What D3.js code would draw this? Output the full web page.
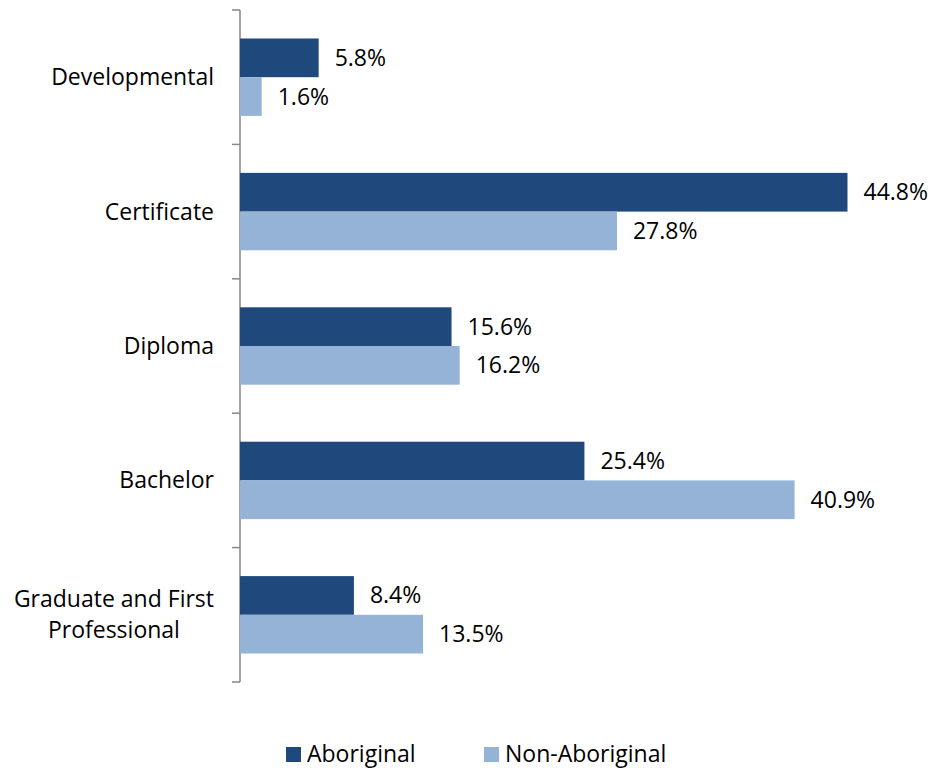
<!DOCTYPE html><html><head><meta charset="UTF-8"><script src="https://d3js.org/d3.v7.min.js"></script><style>
  body { margin: 0; background: #fff; }
  #chart { width: 932px; height: 770px; font-family: "Open Sans", sans-serif; }
</style></head><body><div id="chart"></div><script>
const categories = ["Developmental", "Certificate", "Diploma", "Bachelor", "Graduate and First Professional"];
const seriesNames = ["Aboriginal", "Non-Aboriginal"];
const aboriginal = [5.8, 44.8, 15.6, 25.4, 8.4];
const nonAboriginal = [1.6, 27.8, 16.2, 40.9, 13.5];
const colors = ["#1F497D", "#95B3D7"];

const fullWidth = 932, fullHeight = 770;
const fs = 23;
const svg = d3.select('#chart').append('svg')
  .attr('width', fullWidth).attr('height', fullHeight);

const x = d3.scaleLinear().domain([0, 50]).range([240, 918]);
const y0 = d3.scaleBand().domain(categories).range([10, 682]);
const groupH = 77.4;
const y1 = d3.scaleBand().domain(seriesNames).range([0, groupH]);

const rows = categories.map((c, i) => ({cat: c, vals: [aboriginal[i], nonAboriginal[i]]}));

// axis line with ticks on the left, at category boundaries
const axisG = svg.append('g').attr('transform', 'translate(240,0)');
axisG.append('line').attr('y1', 10).attr('y2', 682).attr('stroke', '#868686').attr('stroke-width', 1.5);
const boundaries = categories.map(c => y0(c)).concat([y0.range()[1]]);
axisG.selectAll('.tk').data(boundaries).enter().append('line')
  .attr('x1', -8).attr('x2', 0).attr('y1', d => d).attr('y2', d => d)
  .attr('stroke', '#868686').attr('stroke-width', 1.5);

const groups = svg.selectAll('.grp').data(rows).enter().append('g')
  .attr('transform', d => `translate(0,${y0(d.cat) + (y0.bandwidth() - groupH) / 2})`);

groups.selectAll('rect').data(d => d.vals.map((v, i) => ({v, s: seriesNames[i], i}))).enter()
  .append('rect')
  .attr('x', x(0)).attr('y', d => y1(d.s))
  .attr('width', d => x(d.v) - x(0)).attr('height', y1.bandwidth())
  .attr('fill', d => colors[d.i]);

groups.selectAll('text').data(d => d.vals.map((v, i) => ({v, s: seriesNames[i]}))).enter()
  .append('text')
  .attr('x', d => x(d.v) + 16).attr('y', d => y1(d.s) + y1.bandwidth() / 2)
  .attr('dy', '0.35em').attr('font-size', fs).attr('fill', '#000')
  .text(d => d.v.toFixed(1) + '%');

// category labels
const wrap = {"Graduate and First Professional": ["Graduate and First", "Professional"]};
categories.forEach(c => {
  const lines = wrap[c] || [c];
  const cy = y0(c) + y0.bandwidth() / 2;
  const t = svg.append('text').attr('font-size', fs).attr('fill', '#000');
  const lh = 31;
  lines.forEach((l, i) => {
    t.append('tspan').text(l)
      .attr('y', cy + (i - (lines.length - 1) / 2) * lh).attr('dy', '0.35em');
  });
  const w = d3.max(t.selectAll('tspan').nodes(), n => n.getComputedTextLength());
  t.attr('text-anchor', 'middle');
  t.selectAll('tspan').attr('x', 214 - w / 2);
});

// legend
const legX = [286, 484];
seriesNames.forEach((s, i) => {
  svg.append('rect').attr('x', legX[i]).attr('y', 747).attr('width', 15).attr('height', 15).attr('fill', colors[i]);
  svg.append('text').attr('x', legX[i] + 21).attr('y', 762).attr('font-size', fs).text(s);
});
</script></body></html>
